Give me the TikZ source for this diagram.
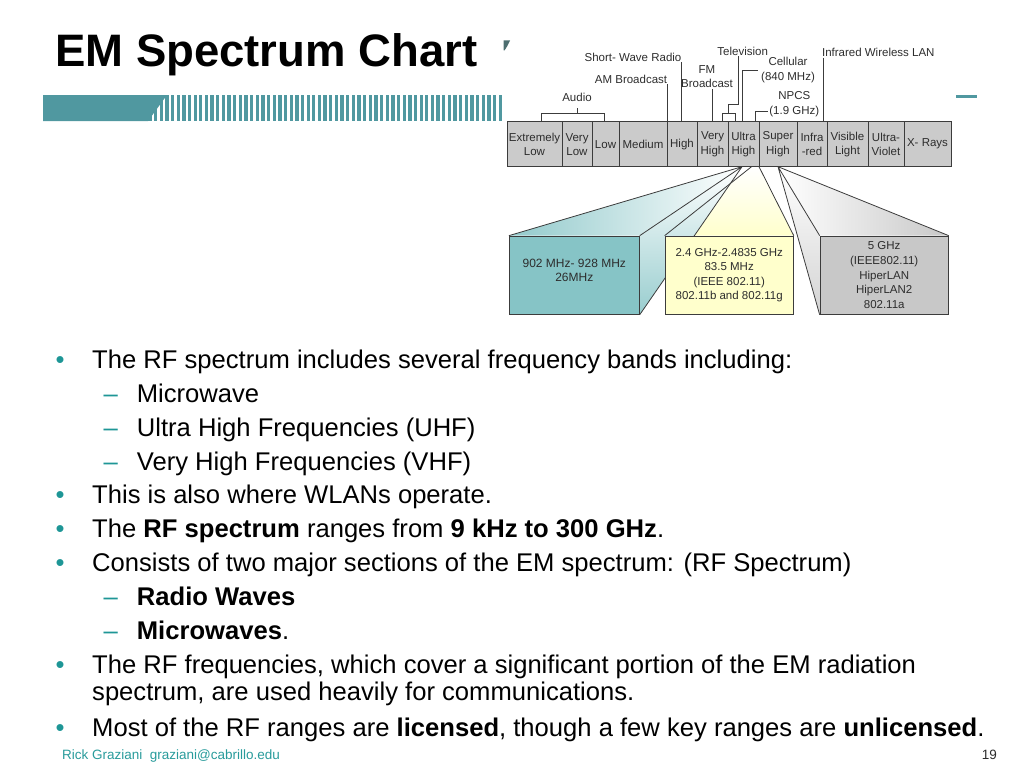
\documentclass[tikz,border=0pt]{standalone}
\usepackage{fontspec}
\setmainfont{Liberation Sans}
\usepackage{tikz}
\usetikzlibrary{positioning}
\definecolor{barteal}{RGB}{80,152,160}
\definecolor{bullteal}{RGB}{30,150,150}
\definecolor{footteal}{RGB}{40,155,155}
\definecolor{markteal}{RGB}{77,110,112}
\definecolor{tealbox}{RGB}{134,196,198}
\definecolor{yellowbox}{RGB}{255,255,204}
\definecolor{greybox}{RGB}{200,200,200}
\definecolor{cellgrey}{RGB}{203,203,203}
\definecolor{linegrey}{RGB}{60,60,60}
\definecolor{textgrey}{RGB}{45,45,45}
\pgfdeclarelayer{back}
\pgfsetlayers{back,main}

\begin{document}
\begin{tikzpicture}[x=1pt, y=-1pt,
    cellbox/.style={draw=linegrey, line width=0.8pt, fill=cellgrey, minimum height=45pt, inner sep=0pt, outer sep=0pt, align=center, font=\fontsize{11.5}{14.2}\selectfont, text=textgrey},
    toplabel/.style={inner sep=1pt, align=center, font=\fontsize{11.5}{14.8}\selectfont, text=textgrey},
    lead/.style={draw=linegrey, line width=0.8pt},
    beam/.style={draw=linegrey, line width=0.8pt},
    bandbox/.style={draw=linegrey, line width=0.8pt, minimum width=128.3pt, minimum height=78.3pt, inner sep=0pt, align=center, font=\fontsize{11.5}{14.6}\selectfont, text=textgrey},
    bandtext/.style={align=center, inner sep=0pt, font=\fontsize{12}{14}\selectfont, text=textgrey},
    bodytext/.style={anchor=base west, inner sep=0pt, font=\fontsize{25.6}{30}\selectfont},
    bulletdot/.style={bodytext, text=bullteal},
    subdash/.style={bodytext, text=bullteal},
    foot/.style={inner sep=0pt, font=\fontsize{13.5}{16}\selectfont}
  ]
  \useasboundingbox (0,0) rectangle (1024,768);

  % Title and header bar
  \node[anchor=base west, inner sep=0pt, font=\fontsize{45.5}{50}\selectfont\bfseries] (title) at (55,66.7) {EM Spectrum Chart};
  \foreach \sx in {148.3,153.95,...,499} \fill[barteal] (\sx,95) rectangle ++(3.3,26);
  \fill[barteal] (43,95) -- (167,95) -- (148,121) -- (43,121) -- cycle;
  \fill[barteal] (956,95) rectangle (977,97.5);
  \fill[markteal] (503.5,40.5) -- (510,40.5) -- (507,46.5) -- (504.5,50.5) -- (503.5,50.5) -- cycle;

  % Spectrum bands
  \node[cellbox, minimum width=55pt, anchor=north west] (elf) at (507,121.7) {Extremely\\Low};
  \node[cellbox, minimum width=30pt, right=0pt of elf] (vlf) {Very\\Low};
  \node[cellbox, minimum width=27pt, right=0pt of vlf] (lf) {Low};
  \node[cellbox, minimum width=48pt, right=0pt of lf] (mf) {Medium};
  \node[cellbox, minimum width=30pt, right=0pt of mf] (hf) {High};
  \node[cellbox, minimum width=31pt, right=0pt of hf] (vhf) {Very\\High};
  \node[cellbox, minimum width=31pt, right=0pt of vhf] (uhf) {Ultra\\High};
  \node[cellbox, minimum width=38pt, right=0pt of uhf] (shf) {Super\\High};
  \node[cellbox, minimum width=30pt, right=0pt of shf] (irf) {Infra\\-red};
  \node[cellbox, minimum width=41pt, right=0pt of irf] (vis) {Visible\\Light};
  \node[cellbox, minimum width=36pt, right=0pt of vis] (uv) {Ultra-\\Violet};
  \node[cellbox, minimum width=47pt, right=0pt of uv] (xray) {X- Rays};

  % Labels above the bands
  \node[toplabel] (audio) at (577,97) {Audio};
  \node[toplabel] (am) at (631,79) {AM Broadcast};
  \node[toplabel] (sw) at (633,57) {Short- Wave Radio};
  \node[toplabel] (fm) at (707,76.5) {FM\\Broadcast};
  \node[toplabel] (tv) at (742.7,51) {Television};
  \node[toplabel] (cell) at (788,70) {Cellular\\(840 MHz)};
  \node[toplabel] (npcs) at (794.3,104) {NPCS\\(1.9 GHz)};
  \node[toplabel] (ir) at (878.3,52.3) {Infrared Wireless LAN};

  \coordinate (audA) at ([xshift=34.3pt]elf.north west);
  \coordinate (audB) at ([xshift=12.7pt]lf.north west);
  \coordinate (amB) at (mf.north east);
  \coordinate (swB) at ([xshift=14pt]hf.north west);
  \coordinate (fmB) at ([xshift=15pt]vhf.north west);
  \coordinate (tvA) at ([xshift=25pt]vhf.north west);
  \coordinate (tvB) at ([xshift=7pt]uhf.north west);
  \coordinate (cellB) at ([xshift=14.5pt]uhf.north west);
  \coordinate (npcsB) at ([xshift=27pt]uhf.north west);
  \coordinate (irB) at ([xshift=26.5pt]irf.north west);

  \draw[lead] (audA) -- ++(0,-8.4) coordinate (audM) -| (audB);
  \draw[lead] (audio.south |- audM) -- ++(0,-5.6);
  \draw[lead] (amB |- am.south) -- (amB);
  \draw[lead] (swB |- sw.south) -- (swB);
  \draw[lead] (fmB |- fm.south) -- (fmB);
  \draw[lead] (tvA) -- ++(0,-8.4) -| (tvB);
  \draw[lead] (uhf.north west) ++(0,-8.4) -- ++(0,-9.3) -| ([xshift=-4pt]tv.south);
  \draw[lead] (cellB) |- ([xshift=-2pt]cell.west);
  \draw[lead] (npcsB) |- ([yshift=-7pt]npcs.west);
  \draw[lead] (irB |- ir.south) -- (irB);

  % WLAN bands
  \node[bandbox, fill=tealbox, minimum width=130pt] (b900) at (574.3,275.2) {};
  \node[bandtext] (t900) at ([yshift=5pt]b900.center) {902 MHz- 928 MHz\\26MHz};
  \node[bandbox, fill=yellowbox] (b24) at (729.2,275.2) {2.4 GHz-2.4835 GHz\\83.5 MHz\\(IEEE 802.11)\\802.11b and 802.11g};
  \node[bandbox, fill=greybox] (b5) at (884.2,275.2) {5 GHz\\(IEEE802.11)\\HiperLAN\\HiperLAN2\\802.11a};

  \coordinate (apT) at ([xshift=-1.5pt]uhf.south);
  \coordinate (apYl) at ([xshift=8pt]uhf.south);
  \coordinate (apYr) at (uhf.south east);
  \coordinate (apG) at (shf.south);

  \begin{pgfonlayer}{back}
    \shade[top color=white, bottom color=yellowbox] (apYl) -- (apYr) -- (b24.north east) -- (b24.north west) -- cycle;
    \shade[left color=tealbox!90, right color=white] (apT) -- (b900.north west) -- (b900.north east) -- cycle;
    \shade[top color=white, bottom color=tealbox!85] (apT) -- (b900.north east) -- (b900.south east) -- cycle;
    \shade[left color=white, right color=greybox] (apG) -- (b5.north west) -- (b5.north east) -- cycle;
    \shade[top color=white, bottom color=greybox!80] (apG) -- (b5.north west) -- (b5.south west) -- cycle;
    \draw[beam] (b900.north west) -- (apT) -- (b900.north east) (b900.south east) -- (apT);
    \draw[beam] (b24.north west) -- (apYl) (b24.north east) -- (apYr);
    \draw[beam] (b5.south west) -- (apG) -- (b5.north west) (apG) -- (b5.north east);
  \end{pgfonlayer}

  % Bullet text
  \node[bulletdot] (p1) at (55.5,368) {•};
  \node[bodytext] (l1) at (92,368) {The RF spectrum includes several frequency bands including:};
  \node[subdash] (q1) at (103.5,402) {–};
  \node[bodytext] (l2) at (136.7,402) {Microwave};
  \node[subdash] (q2) at (103.5,436) {–};
  \node[bodytext] (l3) at (136.7,436) {Ultra High Frequencies (UHF)};
  \node[subdash] (q3) at (103.5,470) {–};
  \node[bodytext] (l4) at (136.7,470) {Very High Frequencies (VHF)};
  \node[bulletdot] (p2) at (55.5,503) {•};
  \node[bodytext] (l5) at (92,503) {This is also where WLANs operate.};
  \node[bulletdot] (p3) at (55.5,537) {•};
  \node[bodytext] (l6) at (92,537) {The \textbf{RF spectrum} ranges from \textbf{9 kHz to 300 GHz}.};
  \node[bulletdot] (p4) at (55.5,571) {•};
  \node[bodytext] (l7) at (92,571) {Consists of two major sections of the EM spectrum: (RF Spectrum)};
  \node[subdash] (q4) at (103.5,605) {–};
  \node[bodytext] (l8) at (136.7,605) {\textbf{Radio Waves}};
  \node[subdash] (q5) at (103.5,639) {–};
  \node[bodytext] (l9) at (136.7,639) {\textbf{Microwaves}.};
  \node[bulletdot] (p5) at (55.5,673) {•};
  \node[bodytext] (l10) at (92,673) {The RF frequencies, which cover a significant portion of the EM radiation};
  \node[bodytext] (l11) at (92,700) {spectrum, are used heavily for communications.};
  \node[bulletdot] (p6) at (55.5,736) {•};
  \node[bodytext] (l12) at (92,736) {Most of the RF ranges are \textbf{licensed}, though a few key ranges are \textbf{unlicensed}.};

  % Footer
  \node[foot, anchor=base west, text=footteal] (author) at (62,759.5) {Rick Graziani\ \ graziani@cabrillo.edu};
  \node[foot, anchor=base east, text=textgrey] (pgno) at (997,759.5) {19};
\end{tikzpicture}
\end{document}
